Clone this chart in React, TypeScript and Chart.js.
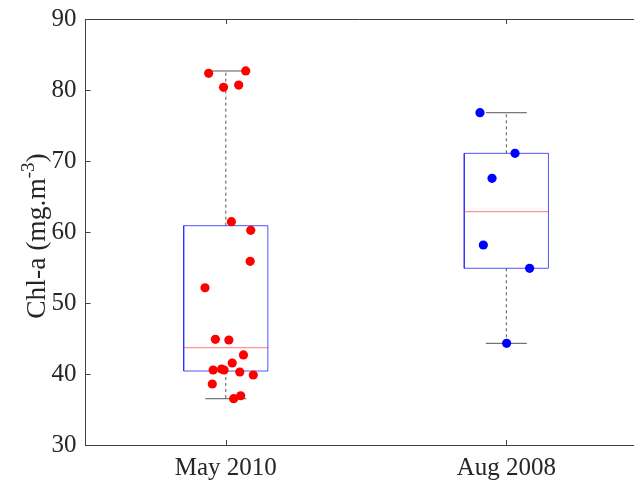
import React, { useEffect, useRef } from 'react';
import { Chart, registerables } from 'chart.js';

Chart.register(...registerables);

// ---- data ----
const categories = ['May 2010', 'Aug 2008'];
const categoryPositions = [1, 2];
const yTickValues = [30, 40, 50, 60, 70, 80, 90];

const mayValues = [82.35, 82.68, 80.38, 80.7, 61.45, 60.24, 55.87, 52.15, 44.89, 44.79, 42.68, 41.55, 40.56, 40.7, 40.56, 40.28, 39.86, 38.59, 36.52, 36.94];
const mayJitter = [-0.061, 0.071, -0.008, 0.046, 0.02, 0.089, 0.087, -0.074, -0.037, 0.011, 0.063, 0.023, -0.045, -0.015, -0.006, 0.05, 0.098, -0.048, 0.028, 0.053];
const augValues = [76.8, 71.08, 67.56, 58.17, 54.89, 44.32];
const augJitter = [-0.094, 0.031, -0.051, -0.082, 0.083, 0.001];

const q1 = [40.42, 54.89];
const medians = [43.7, 62.86];
const q3 = [60.89, 71.08];
const whiskerLow = [36.52, 44.32];
const whiskerHigh = [82.68, 76.8];

const pointColors = ['#ff0000', '#0000ff'];

// ---- style constants ----
const BOX_HALF = 0.15;
const CAP_HALF = 0.073;
const FONT = '"Liberation Serif", "Times New Roman", serif';
const AXIS_COLOR = '#404040';

function lineDs(points: { x: number; y: number }[], color: string, order: number, dash: number[] = [], width = 1) {
  return {
    data: points,
    showLine: true,
    borderColor: color,
    borderWidth: width,
    borderDash: dash,
    pointRadius: 0,
    pointHoverRadius: 0,
    fill: false,
    tension: 0,
    order,
  };
}

function buildDatasets() {
  const ds: any[] = [];
  const groups = [
    { values: mayValues, jitter: mayJitter },
    { values: augValues, jitter: augJitter },
  ];
  groups.forEach((g, i) => {
    const c = categoryPositions[i];
    ds.push({
      data: g.values.map((v, k) => ({ x: c + g.jitter[k], y: v })),
      backgroundColor: pointColors[i],
      borderColor: pointColors[i],
      borderWidth: 0,
      pointRadius: 4.6,
      pointHoverRadius: 4.6,
      showLine: false,
      order: 0,
    });
    // box
    ds.push(
      lineDs(
        [
          { x: c - BOX_HALF, y: q1[i] },
          { x: c + BOX_HALF, y: q1[i] },
          { x: c + BOX_HALF, y: q3[i] },
          { x: c - BOX_HALF, y: q3[i] },
          { x: c - BOX_HALF, y: q1[i] },
        ],
        'rgba(40,40,255,0.8)',
        2
      )
    );
    // median
    ds.push(lineDs([{ x: c - BOX_HALF, y: medians[i] }, { x: c + BOX_HALF, y: medians[i] }], 'rgba(255,60,60,0.7)', 1));
    // whiskers
    ds.push(lineDs([{ x: c, y: q3[i] }, { x: c, y: whiskerHigh[i] }], '#555555', 3, [3, 3]));
    ds.push(lineDs([{ x: c, y: q1[i] }, { x: c, y: whiskerLow[i] }], '#555555', 3, [3, 3]));
    // caps
    ds.push(lineDs([{ x: c - CAP_HALF, y: whiskerHigh[i] }, { x: c + CAP_HALF, y: whiskerHigh[i] }], '#555555', 3));
    ds.push(lineDs([{ x: c - CAP_HALF, y: whiskerLow[i] }, { x: c + CAP_HALF, y: whiskerLow[i] }], '#555555', 3));
  });
  return ds;
}

const framePlugin = {
  id: 'frameAndTicks',
  afterDraw(chart: any) {
    const { ctx, chartArea } = chart;
    const xs = chart.scales.x;
    const ys = chart.scales.y;
    ctx.save();
    ctx.strokeStyle = AXIS_COLOR;
    ctx.lineWidth = 1;
    ctx.beginPath();
    const top = Math.round(chartArea.top) + 0.5;
    ctx.moveTo(chartArea.left, top);
    ctx.lineTo(chartArea.right, top);
    // inside ticks
    yTickValues.forEach((v) => {
      const py = Math.round(ys.getPixelForValue(v)) + 0.5;
      ctx.moveTo(chartArea.left, py);
      ctx.lineTo(chartArea.left + 5, py);
    });
    categoryPositions.forEach((v) => {
      const px = Math.round(xs.getPixelForValue(v)) + 0.5;
      ctx.moveTo(px, chartArea.bottom);
      ctx.lineTo(px, chartArea.bottom - 5);
      ctx.moveTo(px, chartArea.top);
      ctx.lineTo(px, chartArea.top + 5);
    });
    ctx.stroke();

    // y axis title with superscript
    const cy = (chartArea.top + chartArea.bottom) / 2 + 4;
    ctx.translate(45, cy);
    ctx.rotate(-Math.PI / 2);
    ctx.fillStyle = '#262626';
    ctx.textBaseline = 'alphabetic';
    ctx.textAlign = 'left';
    const mainFont = `27.5px ${FONT}`;
    const supFont = `19px ${FONT}`;
    const parts = [
      { t: 'Chl-a (mg.m', f: mainFont, dy: 0 },
      { t: '-3', f: supFont, dy: -11 },
      { t: ')', f: mainFont, dy: 0 },
    ];
    let total = 0;
    const widths = parts.map((p) => {
      ctx.font = p.f;
      const w = ctx.measureText(p.t).width;
      total += w;
      return w;
    });
    let x = -total / 2;
    parts.forEach((p, k) => {
      ctx.font = p.f;
      ctx.fillText(p.t, x, p.dy);
      x += widths[k];
    });
    ctx.restore();
  },
};

export default function App() {
  const canvasRef = useRef<HTMLCanvasElement | null>(null);

  useEffect(() => {
    document.body.style.margin = '0';
    const canvas = canvasRef.current;
    if (!canvas) return;
    const chart = new Chart(canvas, {
      type: 'scatter',
      data: { datasets: buildDatasets() },
      options: {
        animation: false,
        responsive: false,
        devicePixelRatio: 1,
        events: [],
        layout: { autoPadding: false, padding: { top: 19, right: 0, bottom: 0, left: 0 } },
        plugins: {
          legend: { display: false },
          tooltip: { enabled: false },
        },
        scales: {
          x: {
            type: 'linear',
            min: 0.5,
            max: 2.455,
            afterBuildTicks: (scale: any) => {
              scale.ticks = categoryPositions.map((v) => ({ value: v }));
            },
            afterFit: (scale: any) => {
              scale.height = 39;
              scale.paddingLeft = 0;
              scale.paddingRight = 0;
            },
            grid: { display: true, drawOnChartArea: false, drawTicks: false },
            border: { display: true, color: AXIS_COLOR, width: 1 },
            ticks: {
              padding: 8,
              color: '#262626',
              font: { family: FONT, size: 25 },
              maxRotation: 0,
              autoSkip: false,
              callback: (v: any) => {
                const idx = categoryPositions.indexOf(Number(v));
                return idx >= 0 ? categories[idx] : '';
              },
            },
          },
          y: {
            type: 'linear',
            min: 30,
            max: 90,
            afterBuildTicks: (scale: any) => {
              scale.ticks = yTickValues.map((v) => ({ value: v }));
            },
            afterFit: (scale: any) => {
              scale.width = 85.5;
              scale.paddingTop = 0;
              scale.paddingBottom = 0;
            },
            grid: { display: true, drawOnChartArea: false, drawTicks: false },
            border: { display: true, color: AXIS_COLOR, width: 1 },
            ticks: {
              padding: 9,
              color: '#262626',
              font: { family: FONT, size: 25 },
            },
          },
        },
      },
      plugins: [framePlugin],
    });
    return () => chart.destroy();
  }, []);

  return (
    <div style={{ width: 634, height: 484, background: '#fff' }}>
      <canvas ref={canvasRef} width={634} height={484} style={{ display: 'block' }} />
    </div>
  );
}
